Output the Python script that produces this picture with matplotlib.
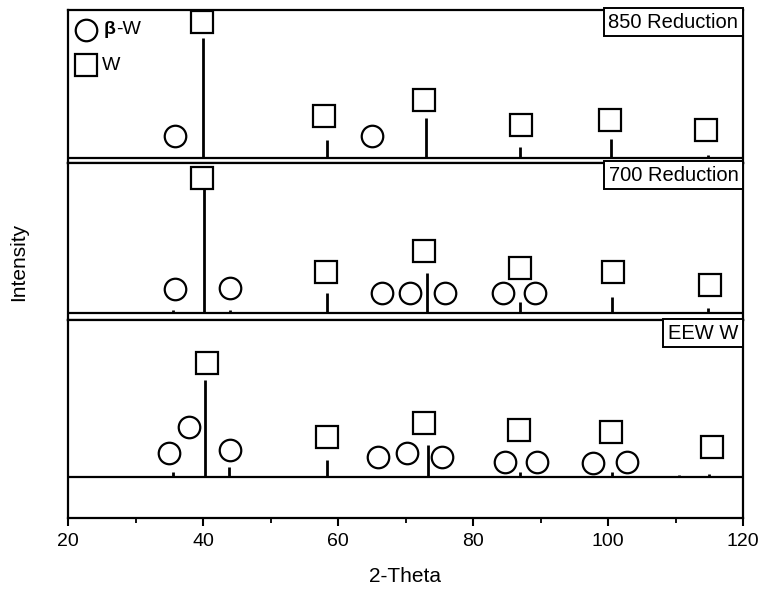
import numpy as np
import matplotlib
matplotlib.use('Agg')
import matplotlib.pyplot as plt

plt.rcParams['font.family'] = ['Liberation Sans', 'DejaVu Sans']

# peak positions (2-theta) and heights for each sample
peaks_850_x = [40.0, 58.3, 73.0, 86.9, 100.5, 114.8]
peaks_850_h = [120, 18, 40, 11, 19, 3]
peaks_700_x = [35.5, 40.1, 44.0, 58.3, 73.2, 86.9, 100.6, 114.8]
peaks_700_h = [3, 125, 3, 20, 40, 11, 16, 5]
peaks_eew_x = [35.6, 40.3, 43.9, 58.4, 73.3, 87.0, 100.6, 110.5, 114.9]
peaks_eew_h = [5, 97, 10, 17, 32, 5, 5, 2, 3]

# phase markers (W = square, beta-W = circle)
w_850_x = [39.9, 57.9, 72.7, 87.1, 100.3, 114.5]
w_850_y = [136, 42, 58, 33, 38, 28]
bw_850_x = [35.9, 65.0]
bw_850_y = [22, 22]

w_700_x = [39.9, 58.2, 72.7, 87.0, 100.7, 115.1]
w_700_y = [135, 41, 62, 45, 41, 28]
bw_700_x = [35.9, 44.0, 66.5, 70.7, 75.9, 84.4, 89.2]
bw_700_y = [24, 25, 20, 20, 20, 20, 20]

w_eew_x = [40.6, 58.4, 72.7, 86.8, 100.4, 115.4]
w_eew_y = [114, 40, 54, 47, 45, 30]
bw_eew_x = [35.0, 37.9, 44.0, 65.9, 70.2, 75.4, 84.7, 89.5, 97.8, 102.8]
bw_eew_y = [24, 50, 27, 20, 24, 20, 15, 15, 14, 15]

labels = ['850 Reduction', '700 Reduction', 'EEW W']

fig = plt.figure(figsize=(7.59, 5.93), dpi=100)
L, W = 68 / 759, 675 / 759
ax1 = fig.add_axes([L, 1 - 163 / 593, W, 153 / 593])
ax2 = fig.add_axes([L, 1 - 320 / 593, W, 157 / 593])
ax3 = fig.add_axes([L, 1 - 518 / 593, W, 198 / 593])

panels = [
    (ax1, peaks_850_x, peaks_850_h, w_850_x, w_850_y, bw_850_x, bw_850_y, (-5, 148)),
    (ax2, peaks_700_x, peaks_700_h, w_700_x, w_700_y, bw_700_x, bw_700_y, (-7, 150)),
    (ax3, peaks_eew_x, peaks_eew_h, w_eew_x, w_eew_y, bw_eew_x, bw_eew_y, (-41, 157)),
]

for i, (ax, px, ph, wx, wy, bx, by, yl) in enumerate(panels):
    ax.axhline(0, color='black', lw=1.6)
    ax.vlines(px, 0, ph, color='black', lw=2)
    ax.plot(wx, wy, 's', ms=15.5, mfc='white', mec='black', mew=1.6, ls='none')
    ax.plot(bx, by, 'o', ms=15.5, mfc='white', mec='black', mew=1.6, ls='none')
    ax.set_xlim(20, 120)
    ax.set_ylim(*yl)
    ax.set_yticks([])
    for s in ax.spines.values():
        s.set_linewidth(1.6)
    ax.text(0.993, 0.982, labels[i], transform=ax.transAxes, ha='right', va='top',
            fontsize=14.5, bbox=dict(boxstyle='square,pad=0.22', fc='white', ec='black', lw=1.4))
    if i < 2:
        ax.set_xticks([])
    else:
        ax.set_xticks([20, 40, 60, 80, 100, 120])
        ax.set_xticks([30, 50, 70, 90, 110], minor=True)
        ax.tick_params(axis='x', which='major', direction='out', length=6, width=1.5,
                       labelsize=14, pad=5)
        ax.tick_params(axis='x', which='minor', direction='out', length=3.5, width=1.3)
        ax.set_xlabel('2-Theta', fontsize=15, labelpad=12)

# legend in the top panel
ax1.plot([0.027], [0.87], 'o', ms=15.5, mfc='white', mec='black', mew=1.6, transform=ax1.transAxes)
ax1.plot([0.027], [0.64], 's', ms=15.5, mfc='white', mec='black', mew=1.6, transform=ax1.transAxes)
ax1.text(0.053, 0.87, 'β', transform=ax1.transAxes, fontsize=14, fontweight='bold', va='center')
ax1.text(0.071, 0.87, '-W', transform=ax1.transAxes, fontsize=14, va='center')
ax1.text(0.050, 0.64, 'W', transform=ax1.transAxes, fontsize=14, va='center')

fig.text(0.024, 1 - 262 / 593, 'Intensity', rotation=90, ha='center', va='center', fontsize=15)

plt.savefig('out.png', dpi=100)
